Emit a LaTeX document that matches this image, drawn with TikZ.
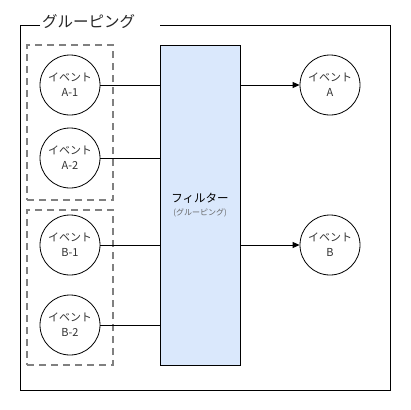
\documentclass[tikz,border=0pt]{standalone}
\usepackage{fontspec}
\setmainfont{Noto Sans CJK JP}
\usetikzlibrary{arrows.meta}
\begin{document}
\begin{tikzpicture}[x=1pt,y=-1pt,
  evt/.style={circle,draw,line width=0.8pt,minimum size=60pt,inner sep=0pt,align=center,font=\fontsize{11}{15}\selectfont,text=black!80},
  grp/.style={draw=black!50,dash pattern=on 7pt off 5pt,line width=1.1pt},
  conn/.style={line width=0.8pt},
  arr/.style={line width=0.8pt,-{Triangle[length=7pt,width=6pt]}}]
\useasboundingbox (0,0) rectangle (410,410);
\fill[white] (0,0) rectangle (410,410);
% outer frame
\draw[line width=0.8pt] (40,25) -- (20,25) -- (20,390) -- (390,390) -- (390,25) -- (160,25);
\node[anchor=west,inner sep=0pt,font=\fontsize{15.5}{18}\selectfont,text=black!85] (title) at (42,22) {グルーピング};
% dashed groups
\node[grp,minimum width=86pt,minimum height=155pt,inner sep=0pt] (ga) at (70,122.5) {};
\node[grp,minimum width=86pt,minimum height=155pt,inner sep=0pt] (gb) at (70,287.5) {};
% filter
\node[draw,fill={rgb,255:red,218;green,232;blue,252},line width=0.8pt,minimum width=80pt,minimum height=320pt,inner sep=0pt,align=center] (f) at (200,205)
  {{\fontsize{11.5}{14}\selectfont フィルター}\\[1pt]{\fontsize{8}{10}\selectfont\color{black!60}(グルーピング)}};
% events
\node[evt] (a1) at (70,85) {イベント\\A-1};
\node[evt] (a2) at (70,158) {イベント\\A-2};
\node[evt] (b1) at (70,245) {イベント\\B-1};
\node[evt] (b2) at (70,325) {イベント\\B-2};
\node[evt] (ea) at (330,85) {イベント\\A};
\node[evt] (eb) at (330,245) {イベント\\B};
% connectors
\draw[conn] (a1.east) -- (a1.east -| f.west);
\draw[conn] (a2.east) -- (a2.east -| f.west);
\draw[conn] (b1.east) -- (b1.east -| f.west);
\draw[conn] (b2.east) -- (b2.east -| f.west);
\draw[arr] (ea.west -| f.east) -- (ea.west);
\draw[arr] (eb.west -| f.east) -- (eb.west);
\end{tikzpicture}
\end{document}
